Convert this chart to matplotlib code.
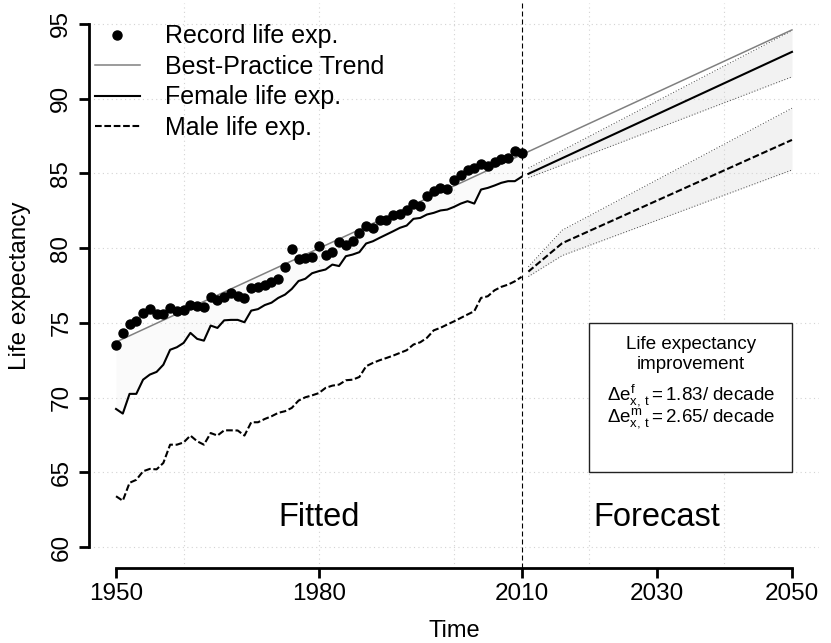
import matplotlib

matplotlib.use("Agg")
import matplotlib.pyplot as plt
import numpy as np
from matplotlib.patches import Rectangle

plt.rcParams["font.family"] = ["Liberation Sans", "DejaVu Sans"]
plt.rcParams["mathtext.fontset"] = "custom"
plt.rcParams["mathtext.rm"] = "Liberation Sans"
plt.rcParams["mathtext.it"] = "Liberation Sans"
plt.rcParams["mathtext.bf"] = "Liberation Sans:bold"

# observed period
years = np.arange(1950, 2011)
record = [
    73.55, 74.33, 74.93, 75.10, 75.67, 75.96, 75.56, 75.56, 76.00, 75.78,
    75.83, 76.22, 76.10, 76.05, 76.71, 76.54, 76.71, 77.00, 76.78, 76.67,
    77.32, 77.43, 77.56, 77.72, 77.94, 78.72, 79.95, 79.28, 79.37, 79.41,
    80.13, 79.57, 79.75, 80.40, 80.24, 80.46, 80.98, 81.47, 81.36, 81.85,
    81.91, 82.25, 82.31, 82.52, 82.96, 82.80, 83.52, 83.81, 84.03, 83.97,
    84.59, 84.88, 85.21, 85.33, 85.60, 85.48, 85.75, 85.93, 86.04, 86.49,
    86.38,
]
female = [
    69.24, 68.93, 70.25, 70.25, 71.20, 71.54, 71.72, 72.20, 73.20, 73.37,
    73.66, 74.33, 73.93, 73.81, 74.82, 74.66, 75.17, 75.20, 75.20, 75.04,
    75.82, 75.92, 76.19, 76.35, 76.67, 76.89, 77.27, 77.80, 77.95, 78.32,
    78.46, 78.57, 78.90, 78.80, 79.46, 79.57, 79.73, 80.31, 80.46, 80.69,
    80.91, 81.13, 81.36, 81.51, 81.96, 82.02, 82.25, 82.36, 82.52, 82.58,
    82.76, 82.98, 83.14, 82.98, 83.92, 84.03, 84.19, 84.37, 84.48, 84.48,
    84.77,
]
male = [
    63.40, 63.10, 64.30, 64.50, 65.07, 65.23, 65.20, 65.63, 66.85, 66.85,
    67.00, 67.46, 67.08, 66.85, 67.63, 67.46, 67.81, 67.81, 67.80, 67.46,
    68.35, 68.35, 68.57, 68.75, 68.98, 69.09, 69.31, 69.80, 70.02, 70.15,
    70.30, 70.65, 70.80, 70.87, 71.16, 71.20, 71.38, 72.10, 72.32, 72.50,
    72.65, 72.81, 72.99, 73.17, 73.55, 73.70, 74.00, 74.50, 74.67, 74.89,
    75.10, 75.33, 75.56, 75.78, 76.67, 76.78, 77.18, 77.41, 77.56, 77.78,
    78.08,
]

# best-practice trend
trend_years = [1950, 2050]
trend = [73.72, 94.60]

# forecast period
fc_years_f = [2011, 2050]
female_fc = [84.97, 93.13]
female_lo = [84.70, 91.46]
female_hi = [85.35, 94.55]

fc_years_m = [2011, 2016, 2050]
male_fc = [78.43, 80.33, 87.24]
male_lo = [78.10, 79.50, 85.23]
male_hi = [78.75, 81.20, 89.36]

fig = plt.figure(figsize=(8.31, 6.43), dpi=100)
ax = fig.add_axes([89 / 831, 1 - 568 / 643, 730 / 831, 565 / 643])
ax.set_xlim(1946, 2054)
ax.set_ylim(58.6, 96.4)

# grid
for gx in [1960, 1980, 2000, 2020, 2040]:
    ax.axvline(gx, color="#d3d3d3", lw=0.8, ls=(0, (1, 3)), zorder=1)
for gy in range(60, 96, 5):
    ax.axhline(gy, color="#d3d3d3", lw=0.8, ls=(0, (1, 3)), zorder=1)

# shading
trend_obs = np.interp(years, trend_years, trend)
ax.fill_between(years, female, trend_obs, color="#fafafa", lw=0, zorder=0.5)
ax.fill_between(fc_years_f, female_lo, female_hi, color="#f2f2f2", lw=0, zorder=0.5)
ax.fill_between(fc_years_m, male_lo, male_hi, color="#f2f2f2", lw=0, zorder=0.5)

dots = (0, (1, 2))
ax.plot(fc_years_f, female_lo, color="#444444", lw=0.7, ls=dots, zorder=2)
ax.plot(fc_years_f, female_hi, color="#444444", lw=0.7, ls=dots, zorder=2)
ax.plot(fc_years_m, male_lo, color="#444444", lw=0.7, ls=dots, zorder=2)
ax.plot(fc_years_m, male_hi, color="#444444", lw=0.7, ls=dots, zorder=2)

male_dash = (0, (3.2, 1.3))
ax.plot(trend_years, trend, color="#808080", lw=1.1, zorder=3, label="Best-Practice Trend")
ax.plot(years, female, color="black", lw=1.5, zorder=3, label="Female life exp.")
ax.plot(years, male, color="black", lw=1.5, ls=male_dash, zorder=3, label="Male life exp.")
ax.plot(fc_years_f, female_fc, color="black", lw=1.5, zorder=3)
ax.plot(fc_years_m, male_fc, color="black", lw=1.5, ls=male_dash, zorder=3)
ax.plot(years, record, "o", color="black", ms=6.5, zorder=4, label="Record life exp.")

ax.axvline(2010, color="black", lw=0.8, ls=(0, (4.5, 2.7)), zorder=3)

# text
ax.text(1980, 62, "Fitted", fontsize=23.5, ha="center", va="center")
ax.text(2030, 62, "Forecast", fontsize=23.5, ha="center", va="center")

ax.add_patch(Rectangle((2020, 65), 30, 10, facecolor="white", edgecolor="#222222",
                       lw=1.0, zorder=5))
ax.text(2035, 72.9, "Life expectancy\nimprovement", fontsize=13.5, ha="center",
        va="center", linespacing=1.25, zorder=6)
ax.text(2035, 70.2, r"$\Delta e^{f}_{x,\,t} = 1.83$/ decade", fontsize=13.5,
        ha="center", va="center", zorder=6)
ax.text(2035, 68.65, r"$\Delta e^{m}_{x,\,t} = 2.65$/ decade", fontsize=13.5,
        ha="center", va="center", zorder=6)

# legend
handles, labels = ax.get_legend_handles_labels()
order = [3, 0, 1, 2]
ax.legend([handles[i] for i in order], [labels[i] for i in order],
          loc="upper left", bbox_to_anchor=(0.008, 0.962), frameon=False,
          fontsize=18, handlelength=1.8, handletextpad=1.0, labelspacing=0.26,
          borderpad=0, borderaxespad=0, numpoints=1)

# axes
for side in ["top", "right"]:
    ax.spines[side].set_visible(False)
ax.spines["left"].set_bounds(60, 95)
ax.spines["bottom"].set_bounds(1950, 2050)
ax.spines["left"].set_linewidth(2)
ax.spines["bottom"].set_linewidth(2)
ax.set_xticks([1950, 1980, 2010, 2030, 2050])
ax.set_yticks(range(60, 96, 5))
ax.tick_params(axis="both", length=7, width=2, labelsize=17.5)
ax.tick_params(axis="x", pad=4)
ax.tick_params(axis="y", pad=5)
for lab in ax.get_yticklabels():
    lab.set_rotation(90)
    lab.set_va("center")

ax.set_xlabel("Time", fontsize=17, va="baseline")
ax.set_ylabel("Life expectancy", fontsize=17.5)
ax.xaxis.set_label_coords(0.5, -0.122)
ax.yaxis.set_label_coords(-0.08, 0.5)

fig.savefig("out.png", dpi=100)
